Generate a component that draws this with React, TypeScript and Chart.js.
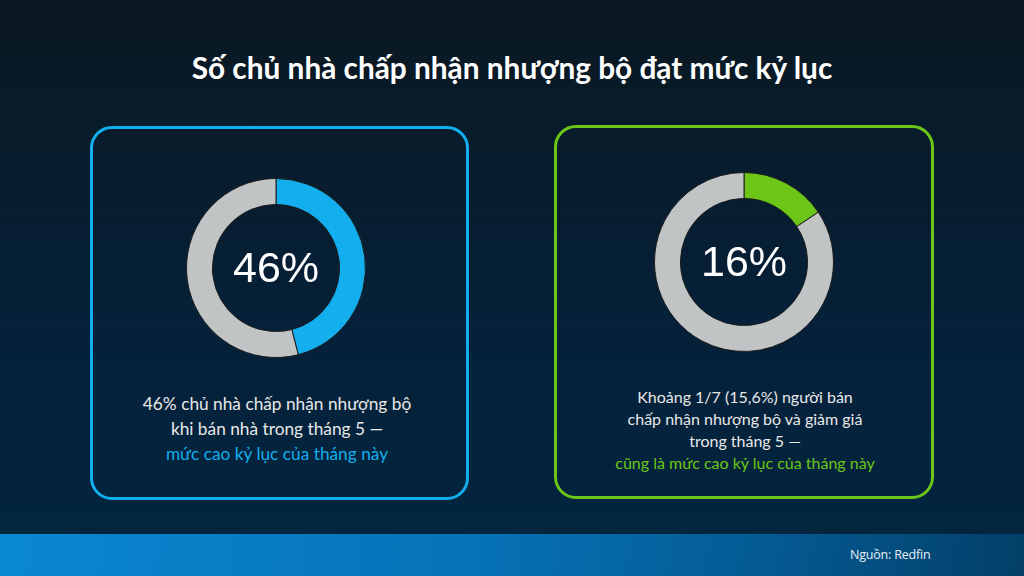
import React, { useEffect, useRef } from "react";
import { Chart, registerables } from "chart.js";

Chart.register(...registerables);

const titleText = "Số chủ nhà chấp nhận nhượng bộ đạt mức kỷ lục";
const segmentLabels = ["Chấp nhận", "Còn lại"];
const leftValues = [46, 54];
const rightValues = [15.6, 84.4];
const leftCenter = "46%";
const rightCenter = "16%";
const leftLines = ["46% chủ nhà chấp nhận nhượng bộ", "khi bán nhà trong tháng 5 —"];
const leftHighlight = "mức cao kỷ lục của tháng này";
const rightLines = ["Khoảng 1/7 (15,6%) người bán", "chấp nhận nhượng bộ và giảm giá", "trong tháng 5 —"];
const rightHighlight = "cũng là mức cao kỷ lục của tháng này";
const sourceText = "Nguồn: Redfin";

const BLUE = "#12aeee";
const GREEN = "#6cc618";
const GRAY = "#c1c4c5";

function Donut(props: { values: number[]; color: string; center: string; left: number; top: number }) {
  const ref = useRef<HTMLCanvasElement | null>(null);
  useEffect(() => {
    if (!ref.current) return;
    const centerText = props.center;
    const chart = new Chart(ref.current, {
      type: "doughnut",
      data: {
        labels: segmentLabels,
        datasets: [
          {
            data: props.values,
            backgroundColor: [props.color, GRAY],
            borderColor: "#1c1c1c",
            borderWidth: 1,
          },
        ],
      },
      options: {
        animation: false,
        responsive: false,
        maintainAspectRatio: false,
        cutout: "71%",
        layout: { padding: 0 },
        plugins: { legend: { display: false }, tooltip: { enabled: false } },
      },
      plugins: [
        {
          id: "centerText",
          afterDraw(c: any) {
            const ctx = c.ctx;
            const meta = c.getDatasetMeta(0);
            const arc = meta.data[0] as any;
            ctx.save();
            ctx.fillStyle = "#ffffff";
            ctx.font = "43px 'Liberation Sans', Arial, sans-serif";
            ctx.textAlign = "center";
            ctx.textBaseline = "middle";
            ctx.fillText(centerText, arc.x, arc.y + 2);
            ctx.restore();
          },
        },
      ],
    });
    return () => chart.destroy();
  }, []);
  return (
    <canvas
      ref={ref}
      width={180}
      height={180}
      style={{ position: "absolute", left: props.left, top: props.top, width: 180, height: 180 }}
    />
  );
}

function Card(props: {
  left: number;
  top: number;
  width: number;
  height: number;
  color: string;
}) {
  return (
    <div
      style={{
        position: "absolute",
        left: props.left,
        top: props.top,
        width: props.width,
        height: props.height,
        border: `3px solid ${props.color}`,
        borderRadius: 22,
        boxSizing: "border-box",
      }}
    />
  );
}

function TextBlock(props: { lines: string[]; highlight: string; color: string; cx: number; top: number; size: number; lh: number }) {
  return (
    <div
      style={{
        position: "absolute",
        left: props.cx - 200,
        width: 400,
        top: props.top,
        textAlign: "center",
        fontFamily: "Lato, sans-serif",
        fontSize: props.size,
        lineHeight: `${props.lh}px`,
        color: "#e8e8e8",
      }}
    >
      {props.lines.map((l, i) => (
        <div key={i}>{l}</div>
      ))}
      <div style={{ color: props.color }}>{props.highlight}</div>
    </div>
  );
}

export default function App() {
  return (
    <div
      style={{
        position: "fixed",
        left: 0,
        top: 0,
        width: 1024,
        height: 576,
        overflow: "hidden",
        background: "linear-gradient(180deg, #0a1821 0%, #05213a 60%, #03263f 100%)",
      }}
    >
      <div
        style={{
          position: "absolute",
          left: 0,
          width: 1024,
          top: 48,
          textAlign: "center",
          fontFamily: "Lato, sans-serif",
          fontWeight: 700,
          fontSize: 29.8,
          color: "#ffffff",
          lineHeight: "40px",
        }}
      >
        {titleText}
      </div>

      <Card left={90} top={126} width={379} height={374} color={BLUE} />
      <Card left={554} top={125} width={380} height={374} color={GREEN} />

      <Donut values={leftValues} color={BLUE} center={leftCenter} left={186} top={178} />
      <Donut values={rightValues} color={GREEN} center={rightCenter} left={654} top={172} />

      <TextBlock lines={leftLines} highlight={leftHighlight} color={BLUE} cx={277} top={391} size={17.3} lh={25} />
      <TextBlock lines={rightLines} highlight={rightHighlight} color={GREEN} cx={745} top={386} size={16} lh={22} />

      <div
        style={{
          position: "absolute",
          left: 0,
          top: 534,
          width: 1024,
          height: 42,
          background: "linear-gradient(100deg, #0a88d2 0%, #0673b8 45%, #045a92 75%, #033f68 100%)",
        }}
      >
        <div
          style={{
            position: "absolute",
            left: 850,
            top: 12,
            fontFamily: "'Open Sans', sans-serif",
            fontSize: 12.5,
            color: "#e6eef5",
            letterSpacing: -0.2,
          }}
        >
          {sourceText}
        </div>
      </div>
    </div>
  );
}
